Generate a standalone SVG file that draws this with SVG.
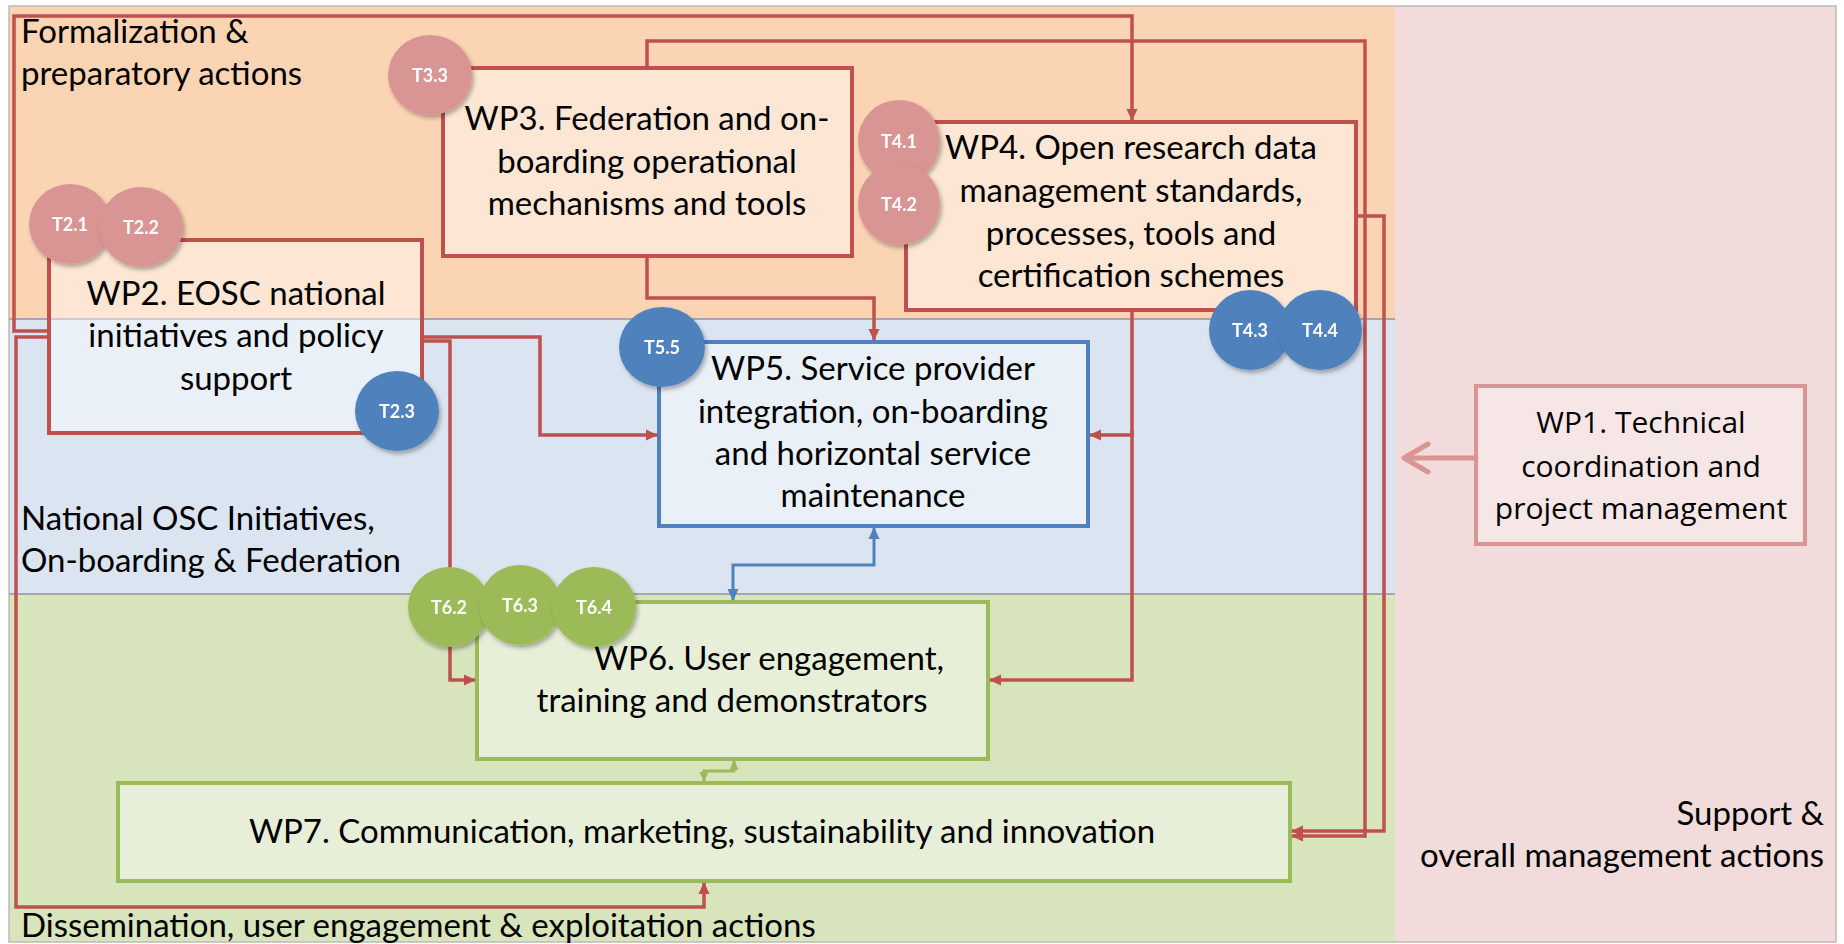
<svg xmlns="http://www.w3.org/2000/svg" width="1844" height="944" viewBox="0 0 1844 944">
<defs>
<style>
.lbl{font-family:Lato,"Liberation Sans",sans-serif;font-size:33px;fill:#000}
.box{fill:#ffffff;fill-opacity:0.42;stroke-width:4}
.red{stroke:#C0504D}
.blu{stroke:#4F81BD}
.grn{stroke:#9BBB59}
.txt{font-family:Lato,"Liberation Sans",sans-serif;font-size:33px;fill:#000;text-anchor:middle}
.con{fill:none;stroke:#C0504D;stroke-width:3.5}
.task{font-family:Lato,"Liberation Sans",sans-serif;font-size:18px;font-weight:bold;fill:#fff;text-anchor:middle;dominant-baseline:central}
.tp{fill:#D99594}
.tb{fill:#4F81BD}
.tg{fill:#9BBB59}
</style>
<marker id="ar" markerUnits="userSpaceOnUse" markerWidth="12" markerHeight="12" refX="11" refY="6" orient="auto">
<path d="M0,0.5 L12,6 L0,11.5 z" fill="#C0504D"/>
</marker>
<marker id="ab" markerUnits="userSpaceOnUse" markerWidth="12" markerHeight="12" refX="11" refY="6" orient="auto-start-reverse">
<path d="M0,0.5 L12,6 L0,11.5 z" fill="#4F81BD"/>
</marker>
<marker id="ag" markerUnits="userSpaceOnUse" markerWidth="10" markerHeight="10" refX="9" refY="5" orient="auto-start-reverse">
<path d="M0,0.5 L10,5 L0,9.5 z" fill="#9BBB59"/>
</marker>
<filter id="sh" x="-20%" y="-20%" width="150%" height="150%">
<feDropShadow dx="2" dy="3" stdDeviation="2" flood-color="#000" flood-opacity="0.3"/>
</filter>
</defs>

<g id="bands">
<rect x="0" y="0" width="1844" height="944" fill="#ffffff"/>
<rect x="9" y="6" width="1386" height="313" fill="#FBD4B4"/>
<rect x="9" y="319" width="1386" height="275" fill="#DBE5F1"/>
<rect x="9" y="594" width="1386" height="348" fill="#D7E4BC"/>
<rect x="1395" y="6" width="441" height="936" fill="#F2DCDB"/>
<rect x="9" y="6" width="1827" height="936" fill="none" stroke="#C0B8B8" stroke-width="1.5"/>
<path d="M9,319 H1395 M9,594 H1395" fill="none" stroke="#A6A6B0" stroke-width="2"/>
<text class="lbl" x="21" y="43">Formalization &amp;</text>
<text class="lbl" x="21" y="85">preparatory actions</text>
<text class="lbl" x="21" y="530">National OSC Initiatives,</text>
<text class="lbl" x="21" y="572">On-boarding &amp; Federation</text>
<text class="lbl" x="21" y="937">Dissemination, user engagement &amp; exploitation actions</text>
<text class="lbl" x="1824" y="825" text-anchor="end">Support &amp;</text>
<text class="lbl" x="1824" y="867" text-anchor="end">overall management actions</text>
</g>

<g id="wp2">
<rect class="box red" x="49" y="240" width="373" height="193"/>
<text class="txt" x="236" y="305">WP2. EOSC national</text>
<text class="txt" x="236" y="347">initiatives and policy</text>
<text class="txt" x="236" y="390">support</text>
</g>
<g id="wp3">
<rect class="box red" x="443" y="68" width="409" height="188"/>
<text class="txt" x="647" y="130">WP3. Federation and on-</text>
<text class="txt" x="647" y="173">boarding operational</text>
<text class="txt" x="647" y="215">mechanisms and tools</text>
</g>
<g id="wp4">
<rect class="box red" x="906" y="122" width="450" height="188"/>
<text class="txt" x="1131" y="159">WP4. Open research data</text>
<text class="txt" x="1131" y="202">management standards,</text>
<text class="txt" x="1131" y="245">processes, tools and</text>
<text class="txt" x="1131" y="287">certification schemes</text>
</g>
<g id="wp5">
<rect class="box blu" x="659" y="342" width="429" height="184"/>
<text class="txt" x="873" y="380">WP5. Service provider</text>
<text class="txt" x="873" y="423">integration, on-boarding</text>
<text class="txt" x="873" y="465">and horizontal service</text>
<text class="txt" x="873" y="507">maintenance</text>
</g>
<g id="wp6">
<rect class="box grn" x="477" y="602" width="511" height="157"/>
<text class="txt" x="769" y="670">WP6. User engagement,</text>
<text class="txt" x="732" y="712">training and demonstrators</text>
</g>
<g id="wp7">
<rect class="box grn" x="118" y="783" width="1172" height="98"/>
<text class="txt" x="702" y="843">WP7. Communication, marketing, sustainability and innovation</text>
</g>
<g id="wp1">
<rect x="1476" y="386" width="329" height="158" fill="#F6E7E6" stroke="#D99594" stroke-width="4"/>
<text x="1641" y="433" font-family="'Open Sans','DejaVu Sans',sans-serif" font-size="30" text-anchor="middle" fill="#000">WP1. Technical</text>
<text x="1641" y="477" font-family="'Open Sans','DejaVu Sans',sans-serif" font-size="30" text-anchor="middle" fill="#000">coordination and</text>
<text x="1641" y="519" font-family="'Open Sans','DejaVu Sans',sans-serif" font-size="30" text-anchor="middle" fill="#000">project management</text>
</g>

<g id="connectors">
<path class="con" d="M49,331 H14 V16 H1132 V120" marker-end="url(#ar)"/>
<path class="con" d="M49,337 H16 V907 H704 V883" marker-end="url(#ar)"/>
<path class="con" d="M422,337 H540 V435 H657" marker-end="url(#ar)"/>
<path class="con" d="M422,341 H450 V680 H475" marker-end="url(#ar)"/>
<path class="con" d="M647,68 V41 H1365 V836 H1292" marker-end="url(#ar)"/>
<path class="con" d="M647,256 V298 H874 V340" marker-end="url(#ar)"/>
<path class="con" d="M1132,310 V435 H1090" marker-end="url(#ar)"/>
<path class="con" d="M1132,430 V680 H990" marker-end="url(#ar)"/>
<path class="con" d="M1356,216 H1384 V831 H1292" marker-end="url(#ar)"/>
<path d="M874,528 V565 H733 V600" fill="none" stroke="#4F81BD" stroke-width="3" marker-start="url(#ab)" marker-end="url(#ab)"/>
<path d="M734,761 V771 H704 V781" fill="none" stroke="#9BBB59" stroke-width="3" marker-start="url(#ag)" marker-end="url(#ag)"/>
<path d="M1476,458 H1406 M1428,444 L1404,458 L1428,472" fill="none" stroke="#D99594" stroke-width="5" stroke-linecap="round" stroke-linejoin="round"/>
</g>

<g id="t2-1" filter="url(#sh)"><ellipse class="tp" cx="70" cy="224" rx="41" ry="40"/><text class="task" x="70" y="224">T2.1</text></g>
<g id="t2-2" filter="url(#sh)"><ellipse class="tp" cx="141" cy="227" rx="42" ry="40"/><text class="task" x="141" y="227">T2.2</text></g>
<g id="t2-3" filter="url(#sh)"><ellipse class="tb" cx="397" cy="411" rx="42" ry="40"/><text class="task" x="397" y="411">T2.3</text></g>
<g id="t3-3" filter="url(#sh)"><ellipse class="tp" cx="430" cy="75" rx="42" ry="40"/><text class="task" x="430" y="75">T3.3</text></g>
<g id="t4-1" filter="url(#sh)"><ellipse class="tp" cx="899" cy="141" rx="41" ry="41"/><text class="task" x="899" y="141">T4.1</text></g>
<g id="t4-2" filter="url(#sh)"><ellipse class="tp" cx="899" cy="204" rx="41" ry="41"/><text class="task" x="899" y="204">T4.2</text></g>
<g id="t4-3" filter="url(#sh)"><ellipse class="tb" cx="1250" cy="330" rx="41" ry="40"/><text class="task" x="1250" y="330">T4.3</text></g>
<g id="t4-4" filter="url(#sh)"><ellipse class="tb" cx="1320" cy="330" rx="42" ry="40"/><text class="task" x="1320" y="330">T4.4</text></g>
<g id="t5-5" filter="url(#sh)"><ellipse class="tb" cx="662" cy="347" rx="43" ry="40"/><text class="task" x="662" y="347">T5.5</text></g>
<g id="t6-2" filter="url(#sh)"><ellipse class="tg" cx="449" cy="607" rx="41" ry="40"/><text class="task" x="449" y="607">T6.2</text></g>
<g id="t6-3" filter="url(#sh)"><ellipse class="tg" cx="520" cy="605" rx="41" ry="40"/><text class="task" x="520" y="605">T6.3</text></g>
<g id="t6-4" filter="url(#sh)"><ellipse class="tg" cx="594" cy="607" rx="42" ry="40"/><text class="task" x="594" y="607">T6.4</text></g>
</svg>
